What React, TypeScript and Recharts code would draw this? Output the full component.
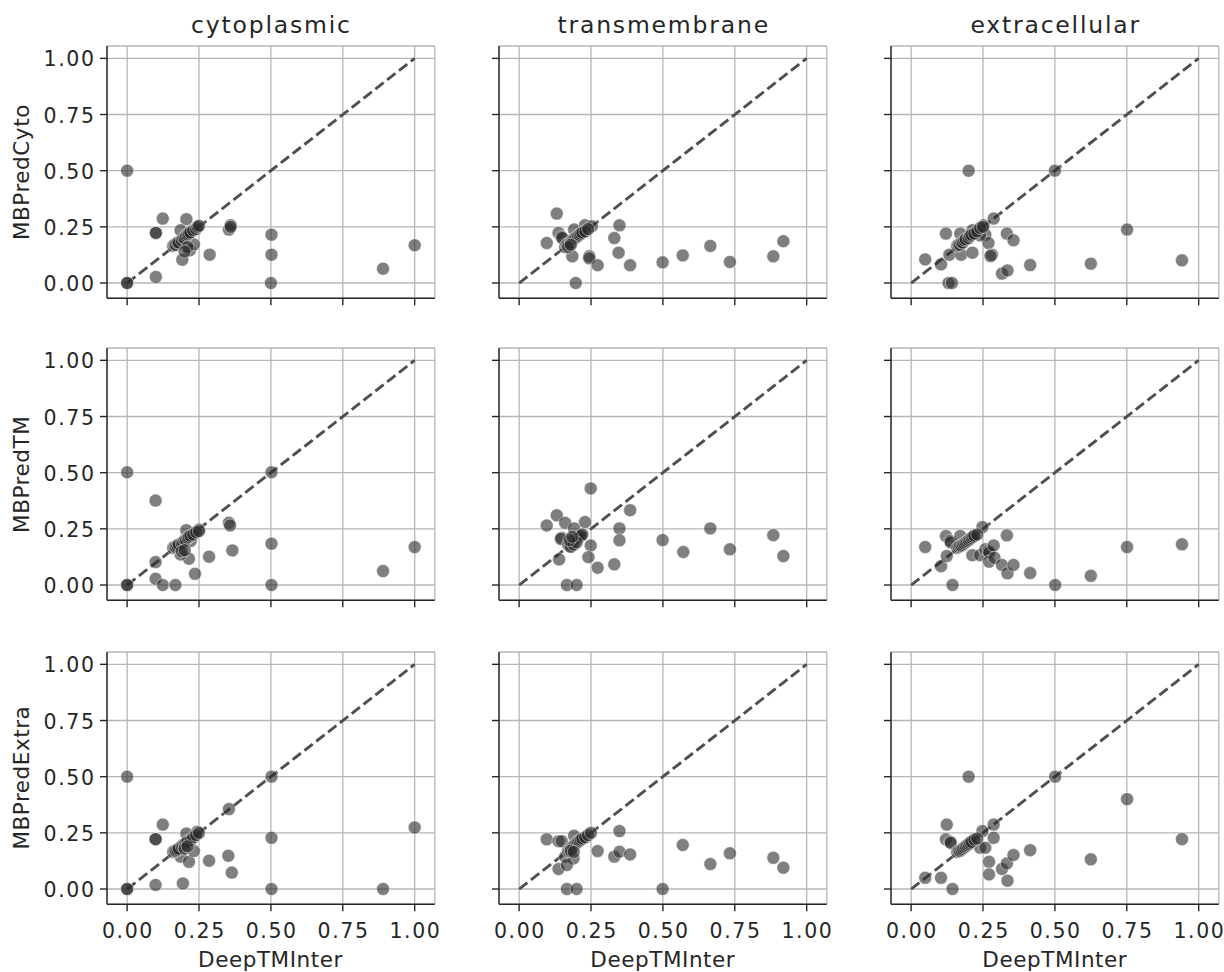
import React from 'react';
import { ScatterChart, Scatter, XAxis, YAxis, CartesianGrid, ReferenceLine } from 'recharts';

const columnTitles = ['cytoplasmic', 'transmembrane', 'extracellular'];
const rowLabels = ['MBPredCyto', 'MBPredTM', 'MBPredExtra'];
const xLabel = 'DeepTMInter';
const tickValues = [0, 0.25, 0.5, 0.75, 1];

type P = [number, number];

const cytoplasmicVsCyto: P[] = [
  [0, 0.5], [0, 0], [0, 0], [0.1, 0.027], [0.1, 0.223], [0.1, 0.223], [0.124, 0.287], [0.206, 0.284],
  [0.186, 0.235], [0.192, 0.104], [0.218, 0.146], [0.232, 0.172], [0.287, 0.126], [0.354, 0.238],
  [0.36, 0.257], [0.36, 0.25], [0.502, 0.215], [0.502, 0.126], [0.5, 0], [0.89, 0.064], [1, 0.168],
  [0.16, 0.165], [0.165, 0.17], [0.17, 0.17], [0.175, 0.18], [0.18, 0.18], [0.19, 0.19], [0.195, 0.2],
  [0.2, 0.2], [0.205, 0.21], [0.21, 0.215], [0.215, 0.22], [0.22, 0.225], [0.23, 0.235], [0.24, 0.24],
  [0.245, 0.25], [0.25, 0.255], [0.21, 0.16], [0.2, 0.14],
];
const transmembraneVsCyto: P[] = [
  [0.131, 0.309], [0.096, 0.178], [0.137, 0.223], [0.148, 0.205], [0.15, 0.2], [0.191, 0.238],
  [0.229, 0.257], [0.253, 0.253], [0.185, 0.119], [0.197, 0], [0.244, 0.119], [0.244, 0.11],
  [0.273, 0.079], [0.331, 0.2], [0.349, 0.257], [0.346, 0.135], [0.386, 0.079], [0.499, 0.092],
  [0.569, 0.123], [0.665, 0.165], [0.733, 0.094], [0.884, 0.119], [0.919, 0.186],
  [0.16, 0.16], [0.165, 0.17], [0.17, 0.175], [0.175, 0.175], [0.18, 0.18], [0.185, 0.19], [0.19, 0.195],
  [0.195, 0.2], [0.2, 0.205], [0.205, 0.21], [0.21, 0.215], [0.215, 0.22], [0.22, 0.225], [0.23, 0.23],
  [0.24, 0.24], [0.17, 0.16], [0.18, 0.17],
];
const extracellularVsCyto: P[] = [
  [0.2, 0.5], [0.5, 0.5], [0.751, 0.238], [0.942, 0.101], [0.625, 0.086], [0.414, 0.08], [0.049, 0.105],
  [0.104, 0.083], [0.133, 0.126], [0.121, 0.22], [0.13, 0], [0.142, 0], [0.174, 0.126], [0.213, 0.135],
  [0.171, 0.22], [0.213, 0.235], [0.258, 0.215], [0.252, 0.257], [0.287, 0.287], [0.269, 0.178],
  [0.281, 0.126], [0.276, 0.12], [0.333, 0.22], [0.356, 0.19], [0.316, 0.042], [0.335, 0.056], [0.24, 0.212],
  [0.16, 0.165], [0.165, 0.17], [0.17, 0.17], [0.175, 0.18], [0.18, 0.18], [0.185, 0.19], [0.19, 0.195],
  [0.2, 0.2], [0.205, 0.21], [0.21, 0.215], [0.22, 0.22], [0.23, 0.23], [0.24, 0.245], [0.25, 0.25],
];
const cytoplasmicVsTM: P[] = [
  [0, 0.502], [0, 0], [0, 0], [0.099, 0.376], [0.099, 0.102], [0.099, 0.028], [0.124, 0], [0.168, 0],
  [0.236, 0.05], [0.215, 0.117], [0.186, 0.136], [0.206, 0.244], [0.221, 0.196], [0.25, 0.247],
  [0.285, 0.126], [0.354, 0.277], [0.358, 0.265], [0.366, 0.154], [0.502, 0.184], [0.502, 0.502],
  [0.502, 0], [0.89, 0.062], [1, 0.169],
  [0.16, 0.165], [0.165, 0.17], [0.17, 0.17], [0.175, 0.175], [0.18, 0.18], [0.19, 0.185], [0.195, 0.19],
  [0.2, 0.2], [0.205, 0.2], [0.21, 0.21], [0.215, 0.215], [0.22, 0.22], [0.23, 0.225], [0.24, 0.235],
  [0.25, 0.24], [0.19, 0.15], [0.2, 0.155],
];
const transmembraneVsTM: P[] = [
  [0.249, 0.43], [0.386, 0.333], [0.131, 0.31], [0.096, 0.265], [0.16, 0.277], [0.229, 0.28],
  [0.191, 0.252], [0.148, 0.21], [0.145, 0.205], [0.177, 0.173], [0.249, 0.176], [0.349, 0.252],
  [0.349, 0.199], [0.139, 0.114], [0.241, 0.124], [0.273, 0.077], [0.331, 0.092], [0.166, 0], [0.2, 0],
  [0.499, 0.2], [0.571, 0.147], [0.665, 0.252], [0.733, 0.159], [0.884, 0.222], [0.919, 0.129],
  [0.17, 0.18], [0.175, 0.185], [0.18, 0.19], [0.185, 0.195], [0.19, 0.2], [0.195, 0.2], [0.2, 0.205],
  [0.205, 0.21], [0.21, 0.215], [0.215, 0.22], [0.22, 0.225], [0.18, 0.17], [0.19, 0.18], [0.2, 0.19],
  [0.175, 0.2], [0.185, 0.215],
];
const extracellularVsTM: P[] = [
  [0.049, 0.169], [0.104, 0.084], [0.124, 0.129], [0.121, 0.218], [0.136, 0.196], [0.138, 0.19],
  [0.171, 0.218], [0.144, 0], [0.213, 0.133], [0.248, 0.258], [0.24, 0.133], [0.258, 0.159],
  [0.269, 0.151], [0.272, 0.145], [0.287, 0.176], [0.271, 0.104], [0.29, 0.121], [0.333, 0.221],
  [0.316, 0.089], [0.335, 0.052], [0.356, 0.089], [0.414, 0.053], [0.501, 0], [0.625, 0.041],
  [0.751, 0.169], [0.942, 0.181],
  [0.16, 0.165], [0.165, 0.17], [0.17, 0.175], [0.175, 0.175], [0.18, 0.18], [0.185, 0.185], [0.19, 0.19],
  [0.195, 0.195], [0.2, 0.2], [0.205, 0.205], [0.21, 0.21], [0.215, 0.215], [0.22, 0.22], [0.23, 0.225],
];
const cytoplasmicVsExtra: P[] = [
  [0, 0.5], [0, 0], [0, 0], [0.099, 0.222], [0.099, 0.222], [0.124, 0.287], [0.099, 0.018], [0.194, 0.025],
  [0.206, 0.247], [0.186, 0.144], [0.215, 0.121], [0.232, 0.169], [0.218, 0.218], [0.244, 0.255],
  [0.285, 0.126], [0.354, 0.356], [0.352, 0.148], [0.364, 0.073], [0.502, 0.5], [0.502, 0.228],
  [0.502, 0], [0.89, 0], [1, 0.274],
  [0.16, 0.165], [0.165, 0.17], [0.17, 0.17], [0.175, 0.175], [0.18, 0.18], [0.19, 0.19], [0.195, 0.195],
  [0.2, 0.2], [0.205, 0.205], [0.21, 0.21], [0.22, 0.215], [0.23, 0.23], [0.24, 0.24], [0.25, 0.25],
  [0.2, 0.18], [0.21, 0.19],
];
const transmembraneVsExtra: P[] = [
  [0.096, 0.221], [0.137, 0.213], [0.148, 0.213], [0.191, 0.237], [0.16, 0.144], [0.189, 0.136],
  [0.137, 0.089], [0.166, 0.107], [0.166, 0], [0.2, 0], [0.273, 0.169], [0.349, 0.258], [0.331, 0.144],
  [0.349, 0.166], [0.386, 0.154], [0.499, 0], [0.569, 0.196], [0.665, 0.111], [0.733, 0.159],
  [0.884, 0.139], [0.919, 0.095],
  [0.17, 0.17], [0.175, 0.175], [0.18, 0.18], [0.185, 0.19], [0.19, 0.19], [0.195, 0.2], [0.2, 0.205],
  [0.205, 0.21], [0.21, 0.215], [0.215, 0.22], [0.22, 0.225], [0.23, 0.23], [0.24, 0.24], [0.25, 0.25],
  [0.18, 0.17], [0.19, 0.165],
];
const extracellularVsExtra: P[] = [
  [0.2, 0.5], [0.501, 0.5], [0.751, 0.4], [0.942, 0.222], [0.625, 0.132], [0.414, 0.173], [0.049, 0.05],
  [0.104, 0.05], [0.144, 0], [0.124, 0.287], [0.121, 0.221], [0.136, 0.21], [0.138, 0.205],
  [0.248, 0.258], [0.287, 0.287], [0.287, 0.228], [0.24, 0.184], [0.258, 0.184], [0.271, 0.121],
  [0.271, 0.065], [0.316, 0.089], [0.333, 0.114], [0.335, 0.037], [0.356, 0.151],
  [0.16, 0.165], [0.165, 0.17], [0.17, 0.17], [0.175, 0.175], [0.18, 0.18], [0.185, 0.185], [0.19, 0.19],
  [0.195, 0.195], [0.2, 0.2], [0.205, 0.205], [0.21, 0.21], [0.22, 0.22], [0.23, 0.225],
];

const panelData: P[][][] = [
  [cytoplasmicVsCyto, transmembraneVsCyto, extracellularVsCyto],
  [cytoplasmicVsTM, transmembraneVsTM, extracellularVsTM],
  [cytoplasmicVsExtra, transmembraneVsExtra, extracellularVsExtra],
];

const COL_LEFT = [106.6, 498.9, 890.9];
const ROW_TOP = [46, 348.2, 651.5];
const PW = 327.8;
const PH = 252.3;
const YW = 100;
const XH = 64;
const MT = 4;
const MR = 34;
const INK = '#262626';
const FONT = 'DejaVu Sans';
const TICK_FS = 20.5;
const TICK_LS = 1.6;

const fmt = (v: number) => v.toFixed(2);

const Dot = (props: any) => {
  const { cx, cy } = props;
  if (cx == null || cy == null) return <g />;
  return (
    <circle cx={cx} cy={cy} r={6.5} fill="#2a2a2a" fillOpacity={0.6} stroke="#ffffff" strokeOpacity={0.6} strokeWidth={0.8} />
  );
};

const makeXTick = (show: boolean) => (props: any) => {
  const { x, y, payload } = props;
  if (!show) return <g />;
  return (
    <text x={x} y={y} dx={TICK_LS / 2} dy={16.5} textAnchor="middle" fontSize={TICK_FS} fontFamily={FONT} fill={INK} letterSpacing={TICK_LS}>
      {fmt(payload.value)}
    </text>
  );
};

const makeYTick = (show: boolean) => (props: any) => {
  const { x, y, payload } = props;
  if (!show) return <g />;
  return (
    <text x={x} y={y} dx={TICK_LS} dy={8} textAnchor="end" fontSize={TICK_FS} fontFamily={FONT} fill={INK} letterSpacing={TICK_LS}>
      {fmt(payload.value)}
    </text>
  );
};

function Panel({ data, r, c }: { data: P[]; r: number; c: number }) {
  const pts = data.map(([x, y]) => ({ x, y }));
  const showY = c === 0;
  const showX = r === 2;
  return (
    <div style={{ position: 'absolute', left: COL_LEFT[c] - YW, top: ROW_TOP[r] - MT }}>
      <ScatterChart width={YW + PW + MR} height={MT + PH + XH} margin={{ top: MT, right: MR, bottom: 0, left: 0 }}>
        <CartesianGrid stroke="#b6b6b8" strokeWidth={1.3} />
        <XAxis
          type="number"
          dataKey="x"
          domain={[-0.07, 1.07]}
          ticks={tickValues}
          allowDataOverflow
          height={XH}
          tickSize={7}
          tickMargin={10}
          axisLine={{ stroke: INK, strokeWidth: 1.4 }}
          tickLine={{ stroke: INK, strokeWidth: 1.4 }}
          tick={makeXTick(showX)}
        />
        <YAxis
          type="number"
          dataKey="y"
          domain={[-0.068, 1.055]}
          ticks={tickValues}
          allowDataOverflow
          width={YW}
          tickSize={7}
          tickMargin={6}
          axisLine={{ stroke: INK, strokeWidth: 1.4 }}
          tickLine={{ stroke: INK, strokeWidth: 1.4 }}
          tick={makeYTick(showY)}
        />
        <Scatter data={pts} isAnimationActive={false} shape={Dot} />
        <ReferenceLine
          segment={[{ x: 0, y: 0 }, { x: 1, y: 1 }]}
          stroke="#4f4f4f"
          strokeWidth={2.9}
          strokeDasharray="10.5 4.5"
          ifOverflow="visible"
        />
      </ScatterChart>
    </div>
  );
}

export default function App() {
  return (
    <div style={{ position: 'absolute', left: 0, top: 0, width: 1224, height: 972, background: '#ffffff', overflow: 'hidden' }}>
      {panelData.map((row, r) =>
        row.map((data, c) => <Panel key={`${r}-${c}`} data={data} r={r} c={c} />)
      )}
      <svg width={1224} height={972} style={{ position: 'absolute', left: 0, top: 0, pointerEvents: 'none' }}>
        {columnTitles.map((t, c) => (
          <text key={t} x={COL_LEFT[c] + PW / 2} dx={0.9} y={33} textAnchor="middle" fontSize={23.5} letterSpacing={1.8} fontFamily={FONT} fill={INK}>
            {t}
          </text>
        ))}
        {columnTitles.map((t, c) => (
          <text key={'xl' + t} x={COL_LEFT[c] + PW / 2} y={967} textAnchor="middle" fontSize={21.5} letterSpacing={0.55} fontFamily={FONT} fill={INK}>
            {xLabel}
          </text>
        ))}
        {rowLabels.map((t, r) => {
          const cy = ROW_TOP[r] + PH / 2;
          return (
            <text key={t} x={29} y={cy} textAnchor="middle" fontSize={21.5} letterSpacing={0.55} fontFamily={FONT} fill={INK} transform={`rotate(-90 29 ${cy})`}>
              {t}
            </text>
          );
        })}
      </svg>
    </div>
  );
}
